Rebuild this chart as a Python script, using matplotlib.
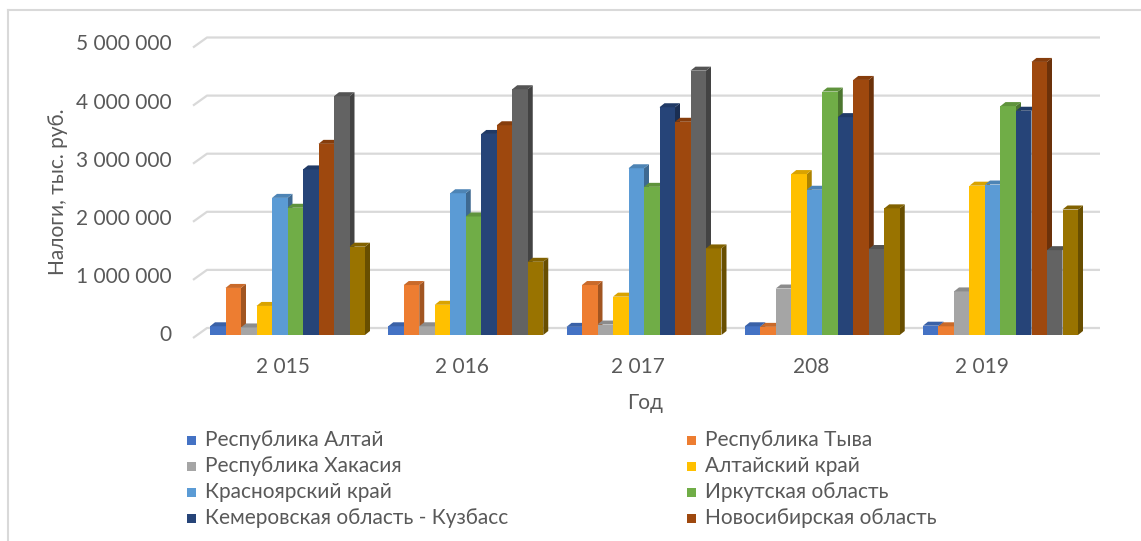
import matplotlib
matplotlib.use("Agg")
import matplotlib.pyplot as plt
from matplotlib.patches import Polygon, Rectangle
from matplotlib.lines import Line2D
import matplotlib.colors as mcolors
import numpy as np

plt.rcParams['font.family'] = ['Lato', 'DejaVu Sans']

# ---- data (тыс. руб.) ----
years = ["2 015", "2 016", "2 017", "208", "2 019"]
series_names = [
    "Республика Алтай", "Республика Тыва", "Республика Хакасия", "Алтайский край",
    "Красноярский край", "Иркутская область", "Кемеровская область - Кузбасс",
    "Новосибирская область", "Омская область", "Томская область",
]
altai_rep = [150000, 150000, 140000, 150000, 160000]
tyva = [810000, 860000, 860000, 140000, 150000]
khakasia = [130000, 150000, 180000, 800000, 750000]
altai_krai = [500000, 520000, 660000, 2770000, 2570000]
krasnoyarsk = [2360000, 2440000, 2870000, 2500000, 2590000]
irkutsk = [2190000, 2040000, 2550000, 4190000, 3940000]
kemerovo = [2850000, 3460000, 3920000, 3750000, 3860000]
novosibirsk = [3290000, 3610000, 3670000, 4390000, 4700000]
omsk = [4110000, 4230000, 4550000, 1480000, 1460000]
tomsk = [1520000, 1260000, 1490000, 2180000, 2160000]
series_values = [altai_rep, tyva, khakasia, altai_krai, krasnoyarsk,
                 irkutsk, kemerovo, novosibirsk, omsk, tomsk]
colors = ["#4472C4", "#ED7D31", "#A5A5A5", "#FFC000", "#5B9BD5",
          "#70AD47", "#264478", "#9E480E", "#636363", "#997300"]
yticks = [0, 1000000, 2000000, 3000000, 4000000, 5000000]
ytick_labels = ["0", "1 000 000", "2 000 000", "3 000 000", "4 000 000", "5 000 000"]
legend_count = 8

# ---- layout ----
W, H = 1141, 541
fig = plt.figure(figsize=(W / 100, H / 100), dpi=100)
ax_l, ax_r, ax_t, ax_b = 193, 1100, 30, 345
ax = fig.add_axes([ax_l / W, (H - ax_b) / H, (ax_r - ax_l) / W, (ax_b - ax_t) / H])

px_x = 178.25          # pixels per group
px_y = 58.1e-6         # pixels per value unit
c0 = 287.5             # pixel of first group centre
ax.set_xlim((ax_l - c0) / px_x, (ax_r - c0) / px_x)
ax.set_ylim(-(ax_b - 335) / px_y, (335 - ax_t) / px_y)
ax.axis('off')

gc = "#D9D9D9"
x_front = (ax_l - c0) / px_x
x_back = (207 - c0) / px_x
dy_front = -3 / px_y
dy_back = 7 / px_y
for v in yticks:
    ax.plot([x_front, x_back, ax.get_xlim()[1]], [v + dy_front, v + dy_back, v + dy_back],
            color=gc, lw=1.6, zorder=1, clip_on=False, solid_capstyle='butt')

w = 15.5 / px_x
ddx = 5 / px_x
ddy = 4 / px_y
n = len(series_values)
x_idx = np.arange(len(years))


def shade(c, f):
    r, g, b = mcolors.to_rgb(c)
    return (r * f, g * f, b * f)


for j, (vals, col) in enumerate(zip(series_values, colors)):
    x0s = x_idx - n * w / 2 + j * w
    z = 10 + j * 3
    for x0, v in zip(x0s, vals):
        side = Polygon([(x0 + w, 0), (x0 + w + ddx, ddy), (x0 + w + ddx, v + ddy), (x0 + w, v)],
                       closed=True, facecolor=shade(col, 0.68), edgecolor='none', zorder=z)
        ax.add_patch(side)
    ax.bar(x0s, vals, width=w, align='edge', color=col, edgecolor='none', zorder=z + 1,
           label=series_names[j])
    for x0, v in zip(x0s, vals):
        top = Polygon([(x0, v), (x0 + ddx, v + ddy), (x0 + w + ddx, v + ddy), (x0 + w, v)],
                      closed=True, facecolor=shade(col, 0.85), edgecolor='none', zorder=z + 2)
        ax.add_patch(top)

tc = "#595959"
fs = 15
# y tick labels
for v, lab in zip(yticks, ytick_labels):
    ax.text(x_front - 21 / px_x, v, lab, ha='right', va='center', fontsize=fs, color=tc,
            clip_on=False)
# x tick labels
label_px = [283, 461.7, 638, 810.7, 981.7]
for i, lab in enumerate(years):
    ax.text((label_px[i] - c0) / px_x, -(367 - 335) / px_y, lab, ha='center', va='center',
            fontsize=fs, color=tc, clip_on=False)

fig.text(645 / W, 1 - 403 / H, "Год", ha='center', va='center', fontsize=fs, color=tc)
fig.text(58 / W, 1 - 192 / H, "Налоги, тыс. руб.", ha='center', va='center', rotation=90,
         fontsize=fs, color=tc)

# legend (first 8 series shown, two columns, row-wise)
col_marker_x = [187, 687]
col_text_x = [205, 705]
row_y = [440, 466, 492, 518]
for k in range(legend_count):
    r, c = divmod(k, 2)
    fig.patches.append(Rectangle(((col_marker_x[c]) / W, 1 - (row_y[r] + 4.5) / H), 9 / W, 9 / H,
                                 transform=fig.transFigure, facecolor=colors[k], edgecolor='none'))
    fig.text(col_text_x[c] / W, 1 - row_y[r] / H, series_names[k], ha='left', va='center',
             fontsize=fs, color=tc)

# outer frame
bc = "#D9D9D9"
fig.add_artist(Line2D([8 / W, 1], [1 - 10 / H, 1 - 10 / H], transform=fig.transFigure, color=bc, lw=1.5))
fig.add_artist(Line2D([8 / W, 8 / W], [0, 1 - 10 / H], transform=fig.transFigure, color=bc, lw=1.5))

fig.savefig("out.png", dpi=100, facecolor='white')
